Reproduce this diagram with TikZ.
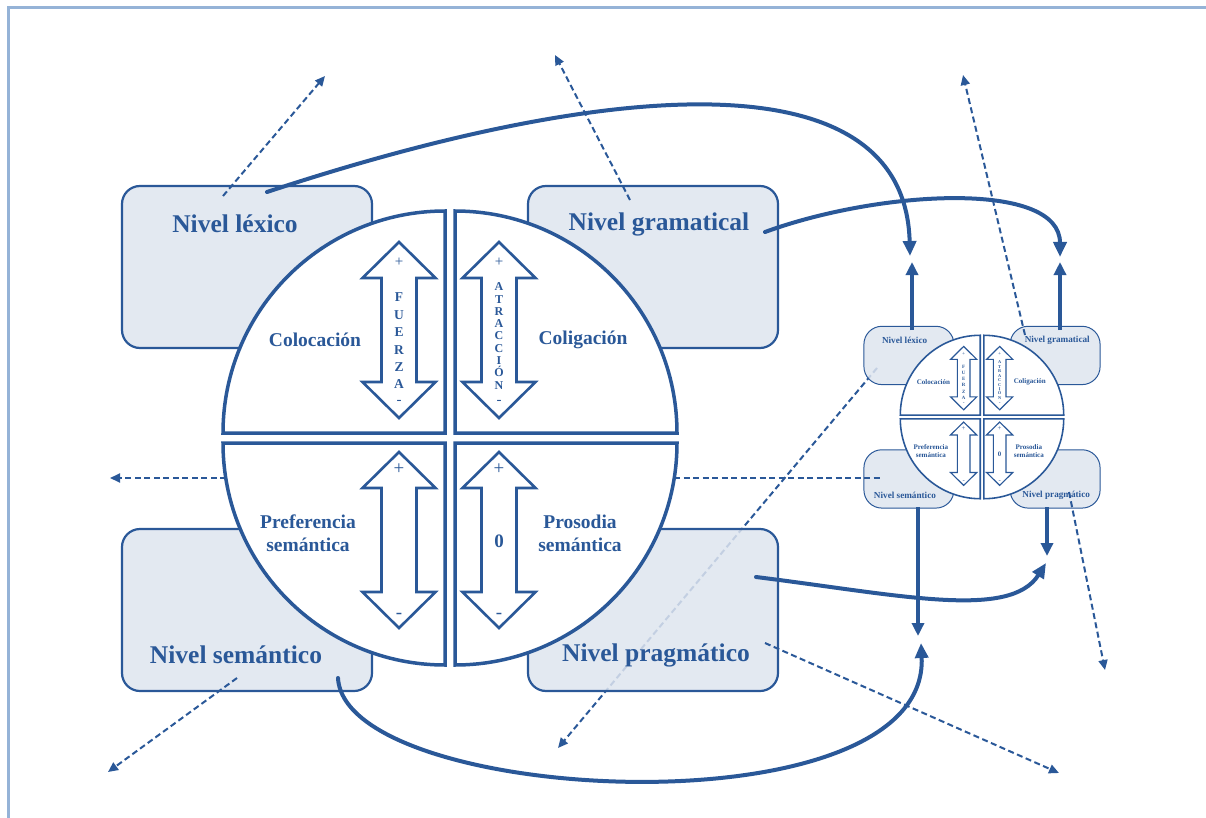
\documentclass[tikz,border=0pt]{standalone}
\usepackage{fontspec}
\setmainfont{Liberation Serif}
\usetikzlibrary{arrows.meta}
\definecolor{mblue}{RGB}{42,88,152}
\definecolor{boxfill}{RGB}{222,229,239}
\definecolor{framecol}{RGB}{149,179,215}
\def\lwf{1}
\tikzset{
  levelbox/.style={draw=mblue, fill=boxfill, fill opacity=0.85, line width=\lwf*2.2pt,
    rounded corners=18pt, minimum width=250pt, minimum height=162pt, inner sep=0pt},
  leveltext/.style={text=mblue, font=\bfseries\fontsize{25.5}{30}\selectfont, inner sep=0pt},
  quadrant/.style={draw=mblue, fill=white, line width=\lwf*3.5pt, line join=miter},
  blockarrow/.style={draw=mblue, fill=white, line width=\lwf*2.6pt, line join=miter},
  quadlabel/.style={text=mblue, font=\bfseries\fontsize{19.5}{23}\selectfont, align=center, inner sep=0pt},
  signsmall/.style={text=mblue, font=\fontsize{15}{17}\selectfont, inner sep=0pt},
  signlarge/.style={text=mblue, font=\fontsize{19}{22}\selectfont, inner sep=0pt},
  zerolabel/.style={text=mblue, font=\bfseries\fontsize{19}{22}\selectfont, inner sep=0pt},
  fuerzatext/.style={text=mblue, font=\bfseries\fontsize{13.5}{17.4}\selectfont, align=center, inner sep=0pt},
  atracciontext/.style={text=mblue, font=\bfseries\fontsize{12}{12.3}\selectfont, align=center, inner sep=0pt},
  flow/.style={draw=mblue, line width=4pt, line cap=round, -{Triangle[length=15pt,width=13pt]}},
  shortflow/.style={draw=mblue, line width=3.5pt, -{Triangle[length=13pt,width=12pt]}},
  dflow/.style={draw=mblue, line width=2pt, dash pattern=on 6pt off 3.5pt, -{Triangle[length=10pt,width=9pt]}},
  dline/.style={draw=mblue, line width=2pt, dash pattern=on 6pt off 3.5pt},
}

% hollow two-headed block arrow: x of the axis, y of the upper and lower tips
\newcommand\dblarrow[3]{%
  \draw[blockarrow] (#1,#2) -- ++(36.5,36) -- ++(-19,0) -- (#1+17.5,#3-36) -- ++(19,0)
    -- (#1,#3) -- ++(-36.5,-36) -- ++(19,0) -- (#1-17.5,#2+36) -- ++(-19,0) -- cycle;}

% the four levels around the four-quadrant circle, centred on the origin
\newcommand\levelmodel[1]{%
  \node[levelbox] (#1lexbox) at (-203,-171) {};
  \node[levelbox] (#1grabox) at (203,-171) {};
  \node[levelbox] (#1sembox) at (-203,172) {};
  \node[levelbox] (#1prabox) at (203,172) {};
  \node[leveltext] (#1lex) at (-215,-214) {Nivel léxico};
  \node[leveltext] (#1gra) at (209,-214) {Nivel gramatical};
  \node[leveltext] (#1sem) at (-214,217) {Nivel semántico};
  \node[leveltext] (#1pra) at (206,217) {Nivel pragmático};
  \draw[quadrant] (-5,-5) -- (-227,-5) arc[start angle=180,end angle=90,radius=222pt] -- cycle;
  \draw[quadrant] (5,-5) -- (5,-227) arc[start angle=90,end angle=0,radius=222pt] -- cycle;
  \draw[quadrant] (5,5) -- (227,5) arc[start angle=0,end angle=-90,radius=222pt] -- cycle;
  \draw[quadrant] (-5,5) -- (-5,227) arc[start angle=-90,end angle=-180,radius=222pt] -- cycle;
  \dblarrow{-51}{-196}{-20}
  \dblarrow{49}{-196}{-20}
  \dblarrow{-51}{14}{190}
  \dblarrow{49}{14}{190}
  \node[quadlabel] (#1colocacion) at (-135,-98) {Colocación};
  \node[quadlabel] (#1coligacion) at (133,-98) {Coligación};
  \node[quadlabel] (#1preferencia) at (-142,95) {Preferencia\\semántica};
  \node[quadlabel] (#1prosodia) at (130,95) {Prosodia\\semántica};
  \node[signsmall] (#1plusa) at (-51,-176) {+};
  \node[signsmall] (#1minusa) at (-51,-36) {-};
  \node[signsmall] (#1plusb) at (49,-176) {+};
  \node[signsmall] (#1minusb) at (49,-36) {-};
  \node[fuerzatext] (#1fuerza) at (-51,-97) {F\\U\\E\\R\\Z\\A};
  \node[atracciontext] (#1atraccion) at (49,-102) {A\\T\\R\\A\\C\\C\\I\\Ó\\N};
  \node[signlarge] (#1plusc) at (-51,31) {+};
  \node[signlarge] (#1minusc) at (-51,178) {-};
  \node[signlarge] (#1plusd) at (49,31) {+};
  \node[signlarge] (#1minusd) at (49,178) {-};
  \node[zerolabel] (#1zero) at (49,103) {0};
}

\begin{document}
\begin{tikzpicture}[x=1pt,y=-1pt]
\useasboundingbox (0,0) rectangle (1206,818);

% page frame
\draw[framecol, line width=3pt] (8,818) -- (8,8) -- (1206,8);

% dashed link passing behind the pragmatic box
\coordinate (fa) at (877,368);
\coordinate (fb) at (558,748);
\draw[dflow] (fa) -- (fb);

% large model
\begin{scope}[shift={(450,438)}]
  \levelmodel{B}
\end{scope}

% small model
\begin{scope}[shift={(982,417)}, scale=0.36, transform shape]
  \def\lwf{0.45}
  \levelmodel{S}
\end{scope}

% dashed arrows
\coordinate (da1) at (223,196);  \coordinate (da2) at (325,76);
\coordinate (db1) at (630,200);  \coordinate (db2) at (555,55);
\coordinate (dc1) at (226,478);  \coordinate (dc2) at (110,478);
\coordinate (dd1) at (237,678);  \coordinate (dd2) at (108,772);
\coordinate (de1) at (765,643);  \coordinate (de2) at (1059,773);
\coordinate (dg1) at (1025,335); \coordinate (dg2) at (963,75);
\coordinate (dh1) at (674,478);  \coordinate (dh2) at (882,478);
\coordinate (di1) at (1069,492); \coordinate (di2) at (1105,670);
\draw[dflow] (da1) -- (da2);
\draw[dflow] (db1) -- (db2);
\draw[dflow] (dc1) -- (dc2);
\draw[dflow] (dd1) -- (dd2);
\draw[dflow] (de1) -- (de2);
\draw[dflow] (dg1) -- (dg2);
\draw[dline] (dh1) -- (dh2);
\draw[dflow] (di1) -- (di2);

% curved links from the large levels to the small model
\coordinate (s1a) at (267,192);  \coordinate (s1b) at (910,256);
\coordinate (s2a) at (765,232);  \coordinate (s2b) at (1060,257);
\coordinate (s3a) at (756,577);  \coordinate (s3b) at (1046,563);
\coordinate (s4a) at (338,678);  \coordinate (s4b) at (921,643);
\draw[flow] (s1a) .. controls (600,82) and (905,52) .. (s1b);
\draw[flow] (s2a) .. controls (880,190) and (1060,180) .. (s2b);
\draw[flow] (s3a) .. controls (900,595) and (1010,620) .. (s3b);
\draw[flow] (s4a) .. controls (345,805) and (930,835) .. (s4b);

% short arrows leaving the small model
\coordinate (v1a) at (912,330);  \coordinate (v1b) at (912,262);
\coordinate (v2a) at (1060,330); \coordinate (v2b) at (1060,262);
\coordinate (v3a) at (918,507);  \coordinate (v3b) at (918,636);
\coordinate (v4a) at (1047,507); \coordinate (v4b) at (1047,556);
\draw[shortflow] (v1a) -- (v1b);
\draw[shortflow] (v2a) -- (v2b);
\draw[shortflow] (v3a) -- (v3b);
\draw[shortflow] (v4a) -- (v4b);
\end{tikzpicture}
\end{document}
